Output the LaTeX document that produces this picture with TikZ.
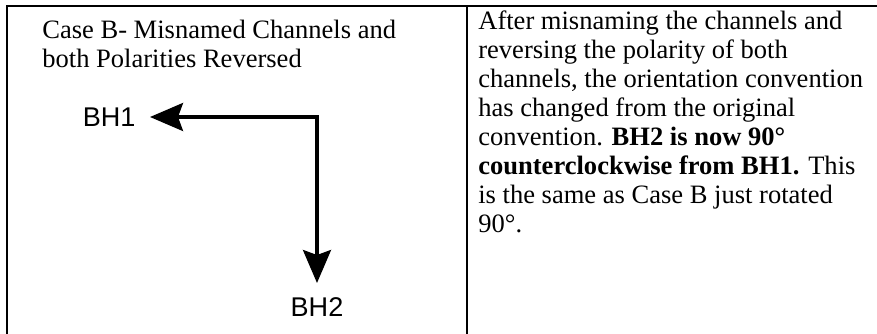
\documentclass[tikz,border=0pt]{standalone}
\usepackage{fontspec}
\setmainfont{Liberation Serif}
\newfontfamily\labelfont{Liberation Sans}
\usepackage{tikz}
\usetikzlibrary{positioning}
\usetikzlibrary{arrows.meta}

\tikzset{
	tableline/.style={line width=0.04cm, line cap=rect},
	celltext/.style={anchor=north west, inner sep=0pt, align=left,
		font=\fontsize{15.1pt}{16.5pt}\selectfont},
	axislabel/.style={inner sep=0pt, outer sep=0.29cm,
		font=\labelfont\fontsize{15.4pt}{18pt}\selectfont},
	axistip/.style={Stealth[length=0.66cm, width=0.56cm, inset=0.10cm]},
	axisarrow/.style={line width=0.064cm, {Stealth[length=0.66cm, width=0.56cm, inset=0.10cm]}-{Stealth[length=0.66cm, width=0.56cm, inset=0.10cm]}},
}

\begin{document}
\begin{tikzpicture}
		
		% ---------------------
		% Proper size --- Bounding box
		\useasboundingbox (0.00cm, 0.00cm) rectangle (17.54cm, -6.66cm);
		
		% ---------------------
		% Table frame
		\draw[tableline] (0.14cm,-6.80cm) |- (17.70cm,-0.12cm);
		\draw[tableline] (9.33cm,-0.12cm) -- (9.33cm,-6.80cm);
		
		% ---------------------
		% Cell texts
		\node[celltext] (Title) at (0.84cm,-0.40cm) {Case B- Misnamed Channels and\\both Polarities Reversed};
		
		\node[celltext] (Desc) at (9.56cm,-0.21cm) {After misnaming the channels and\\
			reversing the polarity of both\\
			channels, the orientation convention\\
			has changed from the original\\
			convention. \textbf{BH2 is now 90°}\\
			\textbf{counterclockwise from BH1.} This\\
			is the same as Case B just rotated\\
			90°.};
		
		% ---------------------
		% Axes
		\coordinate (Corner) at (6.34cm,-2.34cm);
		
		\node[axislabel, left=3.34cm of Corner] (BH1) {BH1};
		\node[axislabel, below=3.32cm of Corner] (BH2) {BH2};
		
		\draw[axisarrow] (BH1) -- (Corner) -- (BH2);
		
\end{tikzpicture}
\end{document}
